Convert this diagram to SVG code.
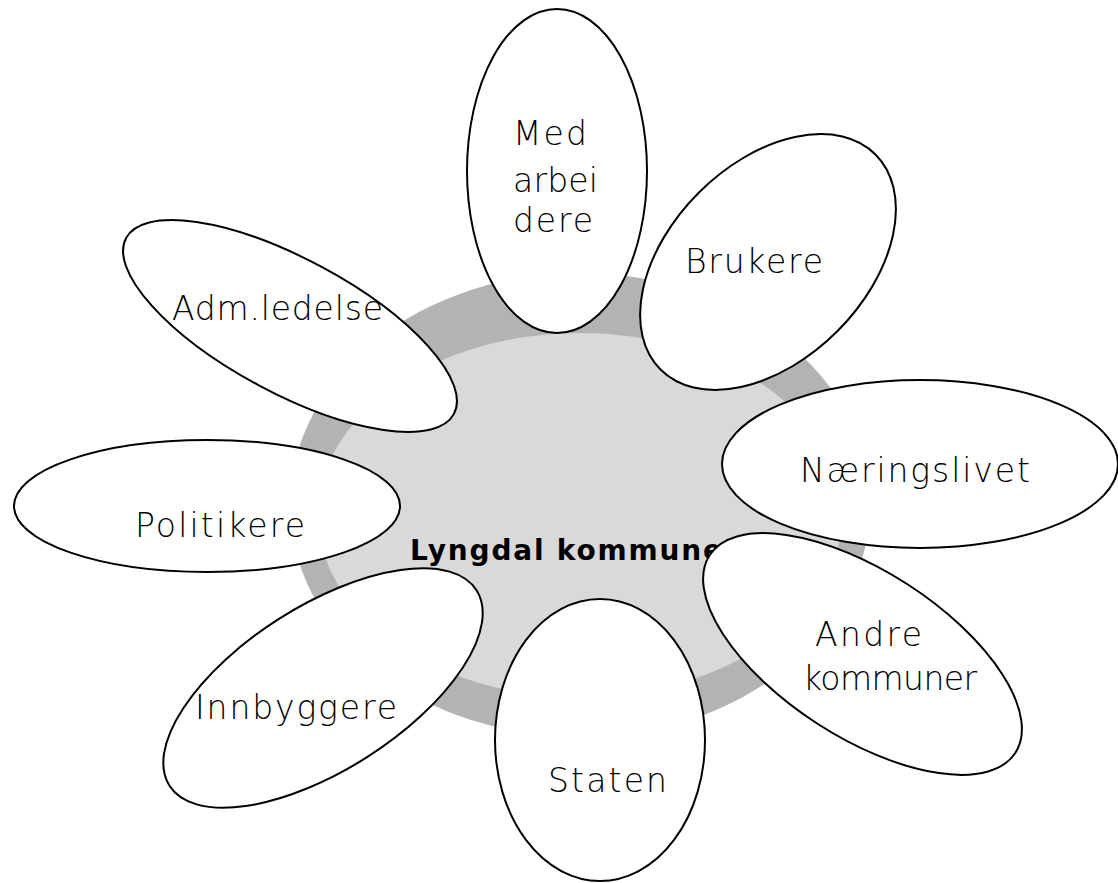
<svg xmlns="http://www.w3.org/2000/svg" width="1118" height="883" viewBox="0 0 1118 883">
<style>
.petal{fill:#ffffff;stroke:#000000;stroke-width:2}
.lbl{font-family:"DejaVu Sans","Liberation Sans",sans-serif;font-size:33px;font-weight:200;fill:#000000}
.center-lbl{font-family:"DejaVu Sans","Liberation Sans",sans-serif;font-size:28px;font-weight:bold;fill:#000000}
</style>
<rect x="0" y="0" width="1118" height="883" fill="#ffffff"/>
<g id="center">
<ellipse cx="580" cy="505" rx="290" ry="232" fill="#b3b3b3"/>
<ellipse cx="580" cy="515" rx="262" ry="182" fill="#d9d9d9"/>
<text class="center-lbl" x="410" y="560" textLength="312" lengthAdjust="spacing">Lyngdal kommune</text>
</g>
<g id="connectors"/>
<g id="node-medarbeidere">
<ellipse class="petal" cx="557" cy="171" rx="90" ry="162"/>
<text class="lbl" x="513" y="145" textLength="74" lengthAdjust="spacing">Med</text>
<text class="lbl" x="513" y="192" textLength="85" lengthAdjust="spacing">arbei</text>
<text class="lbl" x="513" y="232" textLength="80" lengthAdjust="spacing">dere</text>
</g>
<g id="node-brukere">
<ellipse class="petal" cx="0" cy="0" rx="152" ry="98" transform="translate(768 262) rotate(-45)"/>
<text class="lbl" x="685" y="273" textLength="138" lengthAdjust="spacing">Brukere</text>
</g>
<g id="node-admledelse">
<ellipse class="petal" cx="0" cy="0" rx="186" ry="67" transform="translate(290 326) rotate(28.2)"/>
<text class="lbl" x="172" y="320" textLength="211" lengthAdjust="spacing">Adm.ledelse</text>
</g>
<g id="node-politikere">
<ellipse class="petal" cx="207" cy="506" rx="193" ry="66"/>
<text class="lbl" x="135" y="537" textLength="170" lengthAdjust="spacing">Politikere</text>
</g>
<g id="node-naeringslivet">
<ellipse class="petal" cx="920" cy="464" rx="198" ry="84"/>
<text class="lbl" x="800" y="482" textLength="230" lengthAdjust="spacing">Næringslivet</text>
</g>
<g id="node-andrekommuner">
<ellipse class="petal" cx="0" cy="0" rx="182" ry="83" transform="translate(862.5 654) rotate(32.85)"/>
<text class="lbl" x="815" y="646" textLength="107" lengthAdjust="spacing">Andre</text>
<text class="lbl" x="803" y="690" textLength="174" lengthAdjust="spacing">kommuner</text>
</g>
<g id="node-staten">
<ellipse class="petal" cx="600" cy="740" rx="105" ry="141"/>
<text class="lbl" x="548" y="792" textLength="119" lengthAdjust="spacing">Staten</text>
</g>
<g id="node-innbyggere">
<ellipse class="petal" cx="0" cy="0" rx="182" ry="82" transform="translate(323 688) rotate(-32.5)"/>
<text class="lbl" x="195" y="719" textLength="202" lengthAdjust="spacing">Innbyggere</text>
</g>
</svg>
